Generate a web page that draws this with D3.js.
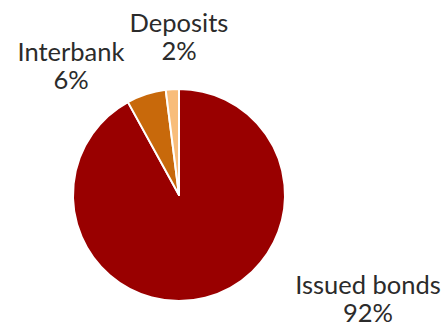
<!DOCTYPE html>
<html>
<head>
<meta charset="utf-8">
<script src="https://cdn.jsdelivr.net/npm/d3@7"></script>
<style>
  html, body { margin: 0; padding: 0; background: #fff; }
  svg { display: block; }
  text { font-family: Lato, "Open Sans", sans-serif; fill: #2b2b2b; }
</style>
</head>
<body>
<svg id="chart" width="446" height="328"></svg>
<script>
// Funding structure
const categories = ["Issued bonds", "Interbank", "Deposits"];
const shares = [92, 6, 2];
const percentLabels = ["92%", "6%", "2%"];
const colors = ["#990000", "#C8690B", "#F8BD7A"];

const W = 446, H = 328;
const cx = 179, cy = 195, radius = 106;

// label anchor points (text centre, first-line baseline)
const labelPos = [
  { x: 368, y: 294 },
  { x: 71,  y: 61 },
  { x: 179, y: 32 }
];

const svg = d3.select("#chart");
const g = svg.append("g").attr("transform", `translate(${cx},${cy})`);

const pie = d3.pie().sort(null).value(d => d)(shares);
const arc = d3.arc().innerRadius(0).outerRadius(radius);
const color = d3.scaleOrdinal().domain(categories).range(colors);

g.selectAll("path")
  .data(pie)
  .join("path")
  .attr("d", arc)
  .attr("fill", (d, i) => color(categories[i]))
  .attr("stroke", "#fff")
  .attr("stroke-width", 2)
  .attr("stroke-linejoin", "round");

const labels = svg.selectAll("text.lbl")
  .data(categories)
  .join("text")
  .attr("class", "lbl")
  .attr("text-anchor", "middle")
  .attr("font-size", 25.5)
  .attr("x", (d, i) => labelPos[i].x)
  .attr("y", (d, i) => labelPos[i].y);

labels.append("tspan").text(d => d);
labels.append("tspan")
  .attr("x", (d, i) => labelPos[i].x)
  .attr("dy", 28)
  .text((d, i) => percentLabels[i]);
</script>
</body>
</html>
